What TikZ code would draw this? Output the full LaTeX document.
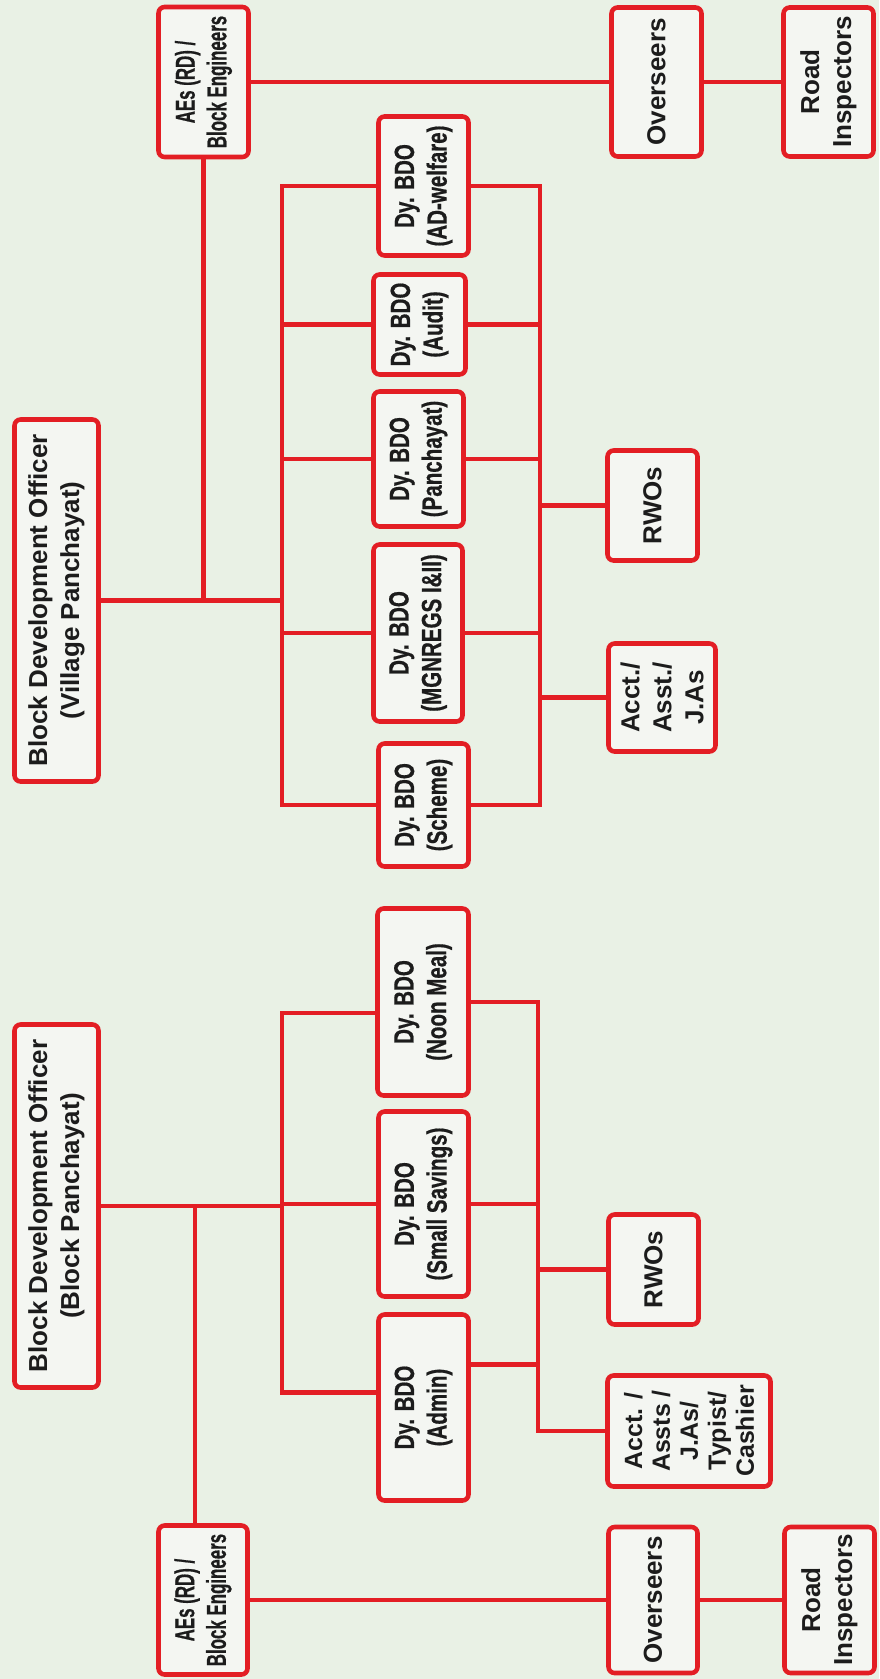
\documentclass[tikz,border=0pt]{standalone}
\usepackage{fontspec}
\setmainfont{Liberation Sans}
\newfontfamily\condfont{Liberation Sans}[FakeStretch=0.74,FakeBold=0.6]
\newfontfamily\tightfont{Liberation Sans}[FakeStretch=0.62,FakeBold=0.6]
\usetikzlibrary{calc}
\definecolor{chartred}{RGB}{227,30,36}
\definecolor{paper}{RGB}{233,241,229}
\definecolor{boxfill}{RGB}{244,246,242}
\definecolor{ink}{RGB}{28,28,28}
\tikzset{post/.style={rectangle,draw=chartred,fill=boxfill,line width=2.6pt,rounded corners=3.5pt,rotate=90,inner sep=0pt,align=center,text=ink,font=\bfseries\fontsize{14.8}{18.2}\selectfont},
  dybox/.style={post,font=\condfont\bfseries\fontsize{15.8}{18.6}\selectfont},
  aebox/.style={post,font=\tightfont\bfseries\fontsize{15.5}{18}\selectfont},
  boxsize/.style 2 args={minimum height=#1*0.02cm,minimum width=#2*0.02cm},
  link/.style={draw=chartred,line width=2.3pt,line cap=rect}}

\begin{document}
\begin{tikzpicture}[x=0.02cm,y=-0.02cm]
  \fill[paper] (0,0) rectangle (879,1679);

  % village panchayat side
  \node (bdoV) [post,boxsize={84}{362}]  at (56.5,600.5)  {Block Development Officer\\(Village Panchayat)};
  \node (aesV) [aebox,boxsize={90}{150}] at (203.5,82)    {AEs (RD) /\\Block Engineers};
  \node (ovV)  [post,boxsize={90}{149}]  at (656.5,82)    {Overseers};
  \node (riV)  [post,boxsize={90}{149}]  at (828.5,82)    {Road\\Inspectors};
  \node (adw)  [dybox,boxsize={90}{139}] at (423.5,186)   {Dy. BDO\\(AD-welfare)};
  \node (aud)  [dybox,boxsize={92}{100}] at (419.5,324.5) {Dy. BDO\\(Audit)};
  \node (pan)  [dybox,boxsize={90}{135}] at (418.5,459)   {Dy. BDO\\(Panchayat)};
  \node (mgn)  [dybox,boxsize={89}{177}] at (418,633)     {Dy. BDO\\(MGNREGS I\&II)};
  \node (sch)  [dybox,boxsize={90}{123}] at (423.5,805)   {Dy. BDO\\(Scheme)};
  \node (rwoV) [post,boxsize={90}{110}]  at (652.5,505.5) {RWOs};
  \node (actV) [post,boxsize={107}{108}] at (662,697.5)   {Acct./\\Asst./\\J.As};

  % block panchayat side
  \node (bdoB) [post,boxsize={84}{363}]  at (56.5,1206)   {Block Development Officer\\(Block Panchayat)};
  \node (noon) [dybox,boxsize={91}{187}] at (423,1002)    {Dy. BDO\\(Noon Meal)};
  \node (sav)  [dybox,boxsize={90}{185}] at (423.5,1204)  {Dy. BDO\\(Small Savings)};
  \node (adm)  [dybox,boxsize={90}{186}] at (423.5,1407.5) {Dy. BDO\\(Admin)};
  \node (rwoB) [post,boxsize={90}{110}]  at (653.5,1269.5) {RWOs};
  \node (actB) [post,boxsize={163}{111},font=\bfseries\fontsize{14.2}{15.9}\selectfont] at (689,1431) {Acct. /\\Assts /\\J.As/\\Typist/\\Cashier};
  \node (aesB) [aebox,boxsize={89}{149}] at (203,1600)    {AEs (RD) /\\Block Engineers};
  \node (ovB)  [post,boxsize={89}{146}]  at (653,1600)    {Overseers};
  \node (riB)  [post,boxsize={90}{146}]  at (829.5,1600)  {Road\\Inspectors};

  \coordinate (lbV) at (282,0);
  \coordinate (rbV) at (540,0);
  \coordinate (lbB) at (282,0);
  \coordinate (rbB) at (538,0);
  \coordinate (aesBtop) at ($(aesB.east)+(-8,0)$);
  \coordinate (noonL) at ($(noon.north)+(0,11)$);
  \coordinate (admL) at ($(adm.north)+(0,-15)$);
  \coordinate (admR) at ($(adm.south)+(0,-43)$);

  % village links
  \draw[link] (bdoV.south) -- (bdoV.south -| lbV);
  \draw[link] (aesV.west) -- (aesV.west |- bdoV.south);
  \draw[link] (aesV) -- (ovV) -- (riV);
  \draw[link] (adw.north) -- (lbV |- adw) -- (lbV |- sch) -- (sch.north);
  \draw[link] (adw.south) -- (rbV |- adw) -- (rbV |- sch) -- (sch.south);
  \foreach \n in {aud,pan,mgn}
    \draw[link] (lbV |- \n) -- (\n.north) (\n.south) -- (rbV |- \n);
  \draw[link] (rbV |- rwoV) -- (rwoV.north);
  \draw[link] (rbV |- actV) -- (actV.north);

  % block links
  \draw[link] (bdoB.south) -- (bdoB.south -| lbB);
  \draw[link] (aesBtop) -- (aesBtop |- bdoB.south);
  \draw[link] (aesB) -- (ovB) -- (riB);
  \draw[link] (noonL) -- (noonL -| lbB) -- (lbB |- admL) -- (admL);
  \draw[link] (noon.south) -- (noon.south -| rbB) -- (rbB |- actB) -- (actB.north);
  \draw[link] (lbB |- sav) -- (sav.north) (sav.south) -- (rbB |- sav);
  \draw[link] (admR) -- (admR -| rbB);
  \draw[link] (rbB |- rwoB) -- (rwoB.north);
\end{tikzpicture}
\end{document}
